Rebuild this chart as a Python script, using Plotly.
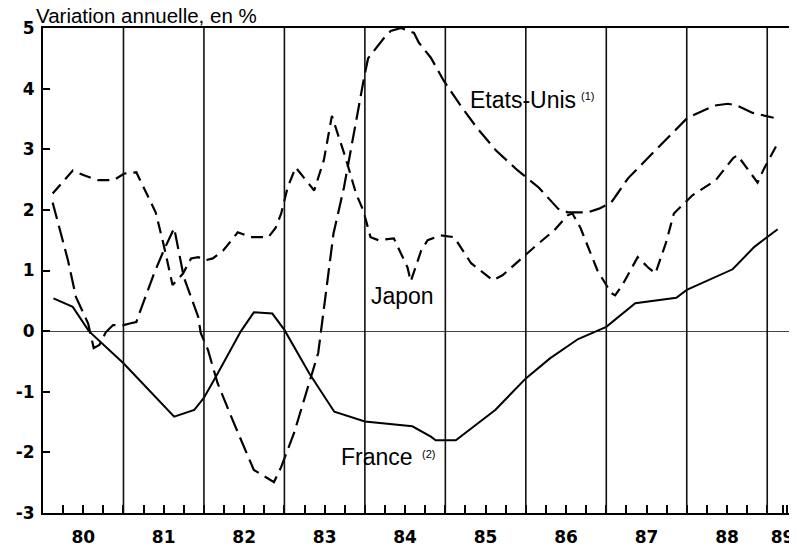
import plotly.graph_objects as go

# ---- data (decimal years, annual % change) ----
france_x = [1980.13, 1980.37, 1980.57, 1981.0, 1981.63, 1981.88, 1982.0, 1982.15, 1982.46,
            1982.62, 1982.85, 1983.0, 1983.31, 1983.62, 1984.0, 1984.59, 1984.82, 1984.88,
            1985.13, 1985.62, 1986.0, 1986.3, 1986.65, 1987.0, 1987.36, 1987.87, 1988.0,
            1988.57, 1988.84, 1989.0, 1989.13]
france_y = [0.54, 0.40, 0.0, -0.53, -1.41, -1.30, -1.10, -0.75, 0.0,
            0.31, 0.29, 0.02, -0.70, -1.33, -1.49, -1.57, -1.74, -1.80,
            -1.80, -1.30, -0.78, -0.45, -0.13, 0.07, 0.46, 0.55, 0.68,
            1.02, 1.39, 1.55, 1.68]

us_x = [1980.12, 1980.31, 1980.41, 1980.56, 1980.60, 1980.63, 1980.70, 1980.78, 1980.87,
        1981.0, 1981.09, 1981.16, 1981.18, 1981.38, 1981.50, 1981.63, 1981.75, 1981.93,
        1981.96, 1982.05, 1982.17, 1982.37, 1982.62, 1982.87, 1982.96, 1983.04, 1983.12,
        1983.42, 1983.54, 1983.61, 1983.74, 1983.86, 1983.99, 1984.04, 1984.24, 1984.32,
        1984.45, 1984.61, 1984.67, 1984.82, 1984.98, 1985.19, 1985.40, 1985.63, 1985.90,
        1986.16, 1986.40, 1986.52, 1986.77, 1986.91, 1987.06, 1987.14, 1987.27, 1987.52,
        1987.76, 1988.01, 1988.34, 1988.51, 1988.63, 1988.82, 1989.08]
us_y = [2.12, 1.17, 0.56, 0.13, -0.10, -0.28, -0.23, -0.02, 0.10,
        0.10, 0.13, 0.15, 0.23, 0.95, 1.33, 1.70, 0.89, 0.23,
        -0.03, -0.31, -0.86, -1.51, -2.29, -2.49, -2.24, -1.96, -1.68,
        -0.36, 0.89, 1.61, 2.37, 3.26, 4.18, 4.50, 4.84, 4.95,
        5.00, 4.92, 4.76, 4.51, 4.13, 3.72, 3.34, 2.98, 2.65,
        2.37, 2.02, 1.96, 1.96, 2.02, 2.12, 2.27, 2.52, 2.86,
        3.18, 3.52, 3.72, 3.75, 3.72, 3.60, 3.52]

japan_x = [1980.12, 1980.37, 1980.51, 1980.68, 1980.88, 1981.01, 1981.16, 1981.25, 1981.40,
           1981.50, 1981.61, 1981.74, 1981.84, 1981.93, 1982.02, 1982.11, 1982.24, 1982.42,
           1982.58, 1982.80, 1982.89, 1982.96, 1983.04, 1983.14, 1983.27, 1983.37, 1983.49,
           1983.59, 1983.76, 1983.89, 1983.98, 1984.07, 1984.17, 1984.36, 1984.53, 1984.57,
           1984.70, 1984.78, 1984.94, 1985.11, 1985.32, 1985.59, 1985.71, 1985.85, 1986.10,
           1986.35, 1986.52, 1986.58, 1986.68, 1986.89, 1987.06, 1987.11, 1987.20, 1987.39,
           1987.52, 1987.61, 1987.74, 1987.84, 1988.07, 1988.36, 1988.58, 1988.63, 1988.77,
           1988.88, 1988.96, 1989.13]
japan_y = [2.27, 2.65, 2.57, 2.49, 2.49, 2.60, 2.62, 2.37, 1.96,
           1.42, 0.76, 0.95, 1.20, 1.22, 1.17, 1.20, 1.33, 1.63,
           1.55, 1.55, 1.70, 1.94, 2.37, 2.70, 2.49, 2.32, 2.82,
           3.55, 2.86, 2.27, 1.99, 1.55, 1.50, 1.53, 1.05, 0.82,
           1.33, 1.50, 1.58, 1.55, 1.12, 0.84, 0.92, 1.09, 1.38,
           1.66, 1.91, 1.94, 1.70, 1.00, 0.63, 0.59, 0.76, 1.22,
           1.05, 0.95, 1.45, 1.94, 2.24, 2.49, 2.86, 2.90, 2.65,
           2.45, 2.68, 3.10]

year_bounds = list(range(1981, 1990))
label_pos = [1980.5, 1981.5, 1982.5, 1983.5, 1984.5, 1985.5, 1986.5, 1987.5, 1988.5, 1989.19]
label_text = ["80", "81", "82", "83", "84", "85", "86", "87", "88", "89"]
y_ticks = [-3, -2, -1, 0, 1, 2, 3, 4, 5]
y_text = ["-3", "-2", "-1", "0", "1", "2", "3", "4", "5"]

fig = go.Figure()
fig.add_trace(go.Scatter(x=france_x, y=france_y, mode="lines", name="France",
                         line=dict(color="black", width=2)))
fig.add_trace(go.Scatter(x=us_x, y=us_y, mode="lines", name="Etats-Unis",
                         line=dict(color="black", width=2.2, dash="17px,7px")))
fig.add_trace(go.Scatter(x=japan_x, y=japan_y, mode="lines", name="Japon",
                         line=dict(color="black", width=2.2, dash="12px,7px")))

for yb in year_bounds:
    fig.add_vline(x=yb, line_width=1.6, line_color="#111")

font_main = "Liberation Sans, Arial, sans-serif"
tick_font = dict(family="DejaVu Sans", size=17, color="black", weight="bold")

# the page body adds an 8px offset, so the figure is sized/margined to compensate
fig.update_layout(
    width=789, height=541,
    margin=dict(l=35, r=0, t=20, b=36),
    paper_bgcolor="white", plot_bgcolor="white",
    showlegend=False,
    xaxis=dict(range=[1980, 1989.37], tickvals=label_pos, ticktext=label_text,
               automargin=False, ticklabeloverflow="allow",
               ticks="inside", ticklen=8, tickwidth=1.5, tickcolor="black",
               showgrid=False, zeroline=False, showline=True, linecolor="black",
               linewidth=2, mirror=True, tickfont=tick_font, ticklabelstandoff=8,
               minor=dict(dtick=0.25, tick0=1980, ticks="inside", ticklen=8,
                          tickwidth=1.5, tickcolor="black", showgrid=False)),
    yaxis=dict(range=[-3, 5], tickvals=y_ticks, ticktext=y_text,
               automargin=False,
               ticks="inside", ticklen=7, tickwidth=1.5, tickcolor="black",
               showgrid=False, zeroline=True, zerolinecolor="#444", zerolinewidth=1,
               showline=True, linecolor="black", linewidth=2,
               tickfont=tick_font, ticklabelstandoff=3),
)

ann = [
    dict(text="Variation annuelle, en %", xref="paper", yref="paper", x=-0.012, y=1.025,
         xanchor="left", yanchor="middle", font=dict(family=font_main, size=20.5)),
    dict(text="Etats-Unis", xref="x", yref="y", x=1985.28, y=3.82,
         xanchor="left", yanchor="middle", font=dict(family=font_main, size=23)),
    dict(text="(1)", xref="x", yref="y", x=1986.66, y=3.88,
         xanchor="left", yanchor="middle", font=dict(family=font_main, size=11)),
    dict(text="Japon", xref="x", yref="y", x=1984.05, y=0.58,
         xanchor="left", yanchor="middle", font=dict(family=font_main, size=23)),
    dict(text="France", xref="x", yref="y", x=1983.68, y=-2.07,
         xanchor="left", yanchor="middle", font=dict(family=font_main, size=23)),
    dict(text="(2)", xref="x", yref="y", x=1984.69, y=-2.02,
         xanchor="left", yanchor="middle", font=dict(family=font_main, size=11)),
]
for a in ann:
    a.update(showarrow=False, font=dict(color="black", **a["font"]))
    fig.add_annotation(**a)

fig.write_html("out.html")
